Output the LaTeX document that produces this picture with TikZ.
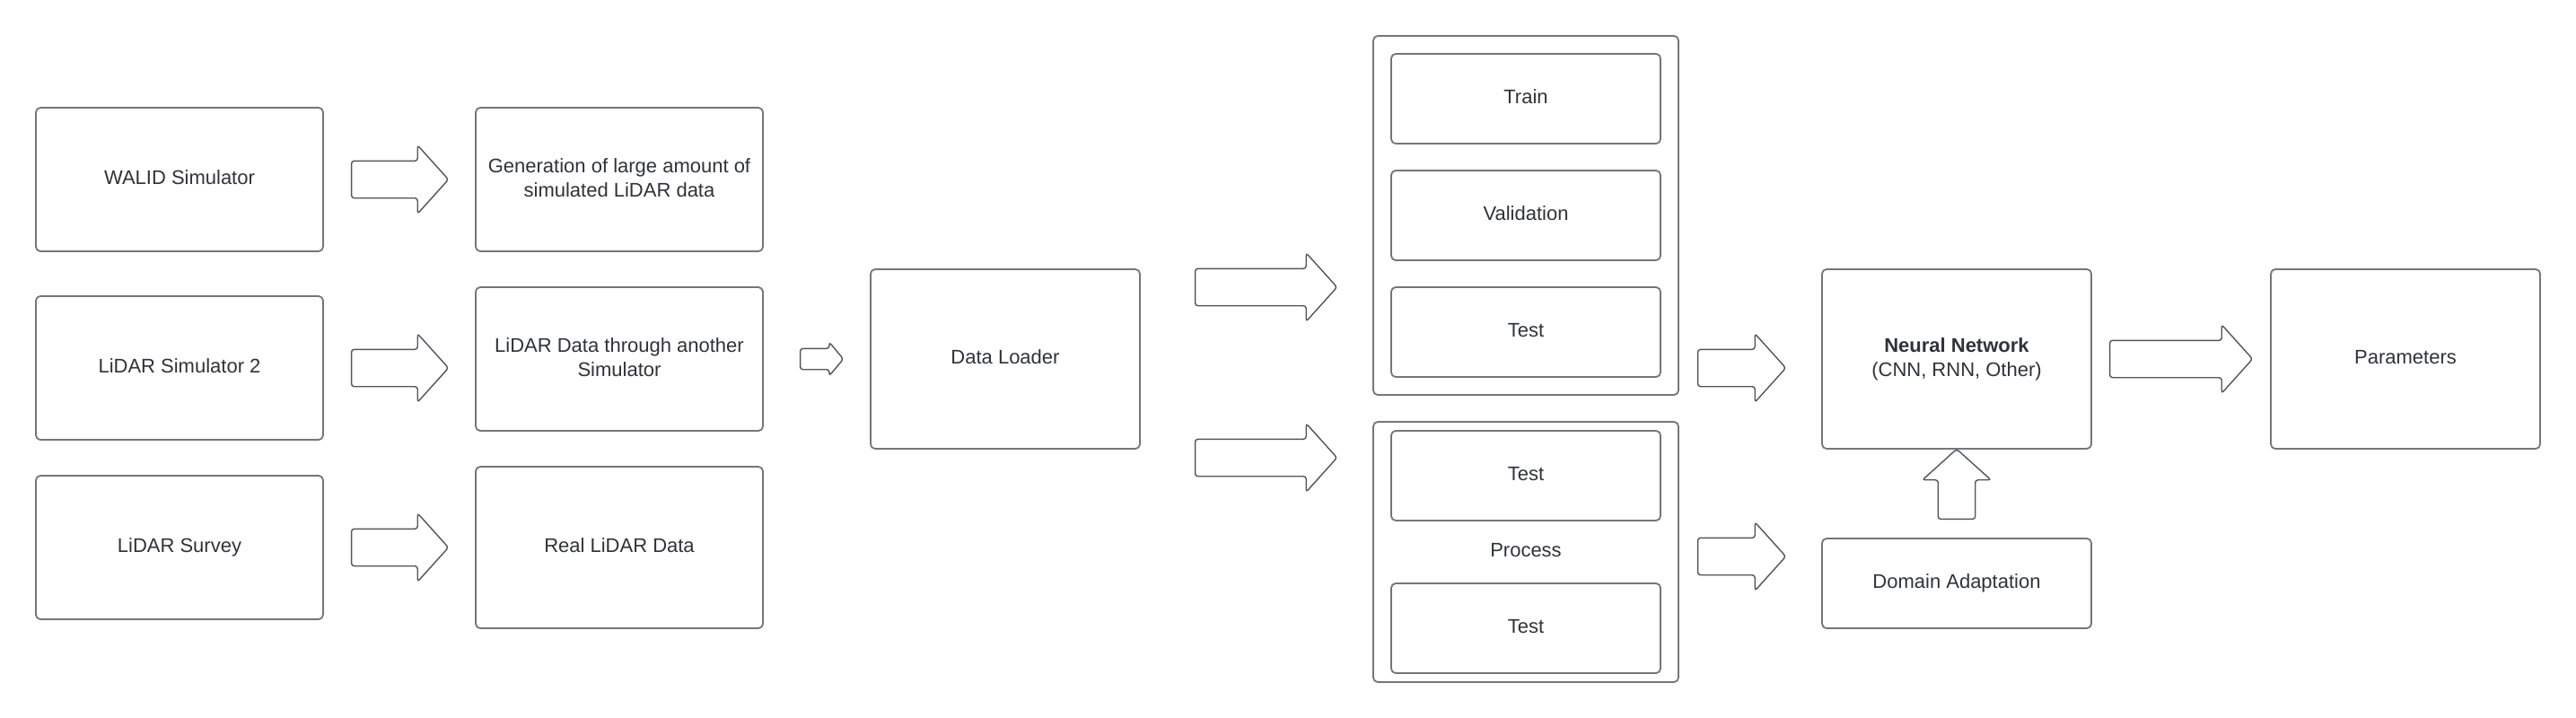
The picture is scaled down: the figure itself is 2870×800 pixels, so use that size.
\documentclass[tikz,border=0pt]{standalone}
\usepackage{fontspec}
\setmainfont{Liberation Sans}
\usetikzlibrary{positioning, shapes.arrows, calc}

\definecolor{edgegray}{HTML}{72767C}
\definecolor{arrowgray}{HTML}{50555C}
\definecolor{inkgray}{HTML}{2E333A}

\begin{document}
\begin{tikzpicture}[
    x=1pt, y=-1pt, % pixel-like coordinates, y grows downwards
    font=\fontsize{22}{27}\selectfont,
    box/.style={draw=edgegray, line width=1.8pt, rounded corners=5pt, text=inkgray, align=center,
        inner sep=0pt, minimum width=320pt, minimum height=160pt,
        execute at end node={\vphantom{y}}}, % Style for blocks
    bigarrow/.style={single arrow, draw=arrowgray, line width=1.4pt, rounded corners=3pt, inner sep=20pt,
        single arrow head extend=17.5pt, single arrow tip angle=96}, % Block arrows
    smallarrow/.style={bigarrow, inner sep=11pt, single arrow head extend=7pt, single arrow tip angle=100}
]
\useasboundingbox (0,0) rectangle (2870,800);

% Sources
\node[box] (walid)  at (200,200) {WALID Simulator};
\node[box] (sim2)   at (200,410) {LiDAR Simulator 2};
\node[box] (survey) at (200,610) {LiDAR Survey};

% Data
\node[box] (gen)  at (690,200) {Generation of large amount of\\simulated LiDAR data};
\node[box] (thru) at (690,400) {LiDAR Data through another\\Simulator};
\node[box, minimum height=180pt] (real) at (690,610) {Real LiDAR Data};

\node[bigarrow, minimum height=108pt, right=30pt of walid]  (a1) {};
\node[bigarrow, minimum height=108pt, right=30pt of sim2]   (a2) {};
\node[bigarrow, minimum height=108pt, right=30pt of survey] (a3) {};

% Loader
\node[box, minimum width=300pt, minimum height=200pt] (loader) at (1120,400) {Data Loader};
\node[smallarrow, minimum height=48pt, right=40pt of thru] (a4) {};

% Splits
\node[box, minimum width=340pt, minimum height=400pt] (split) at (1700,240) {};
\node[box, minimum width=300pt, minimum height=100pt] (train) at (1700,110) {Train};
\node[box, minimum width=300pt, minimum height=100pt] (val)   at (1700,240) {Validation};
\node[box, minimum width=300pt, minimum height=100pt] (test)  at (1700,370) {Test};

\node[box, minimum width=340pt, minimum height=290pt] (proc) at (1700,615) {Process};
\node[box, minimum width=300pt, minimum height=100pt] (ptestA) at (1700,530) {Test};
\node[box, minimum width=300pt, minimum height=100pt] (ptestB) at (1700,700) {Test};

\node[bigarrow, minimum height=158pt, anchor=west] (a5) at ($(loader.east)+(60,-80)$) {};
\node[bigarrow, minimum height=158pt, anchor=west] (a6) at ($(loader.east)+(60,110)$) {};

% Network
\node[box, minimum width=300pt, minimum height=200pt] (nn) at (2180,400) {\textbf{Neural Network}\\(CNN, RNN, Other)};
\node[box, minimum width=300pt, minimum height=100pt] (da) at (2180,650) {Domain Adaptation};
\node[box, minimum width=300pt, minimum height=200pt] (param) at (2680,400) {Parameters};

\node[bigarrow, minimum height=98pt, anchor=west] (a7) at ($(split.east)+(20,170)$) {};
\node[bigarrow, minimum height=98pt, anchor=west] (a8) at ($(proc.east)+(20,5)$) {};
\node[bigarrow, minimum height=159pt, right=19pt of nn] (a9) {};
\node[bigarrow, minimum height=78pt, shape border rotate=90, above=20pt of da] (a10) {};

\end{tikzpicture}
\end{document}
